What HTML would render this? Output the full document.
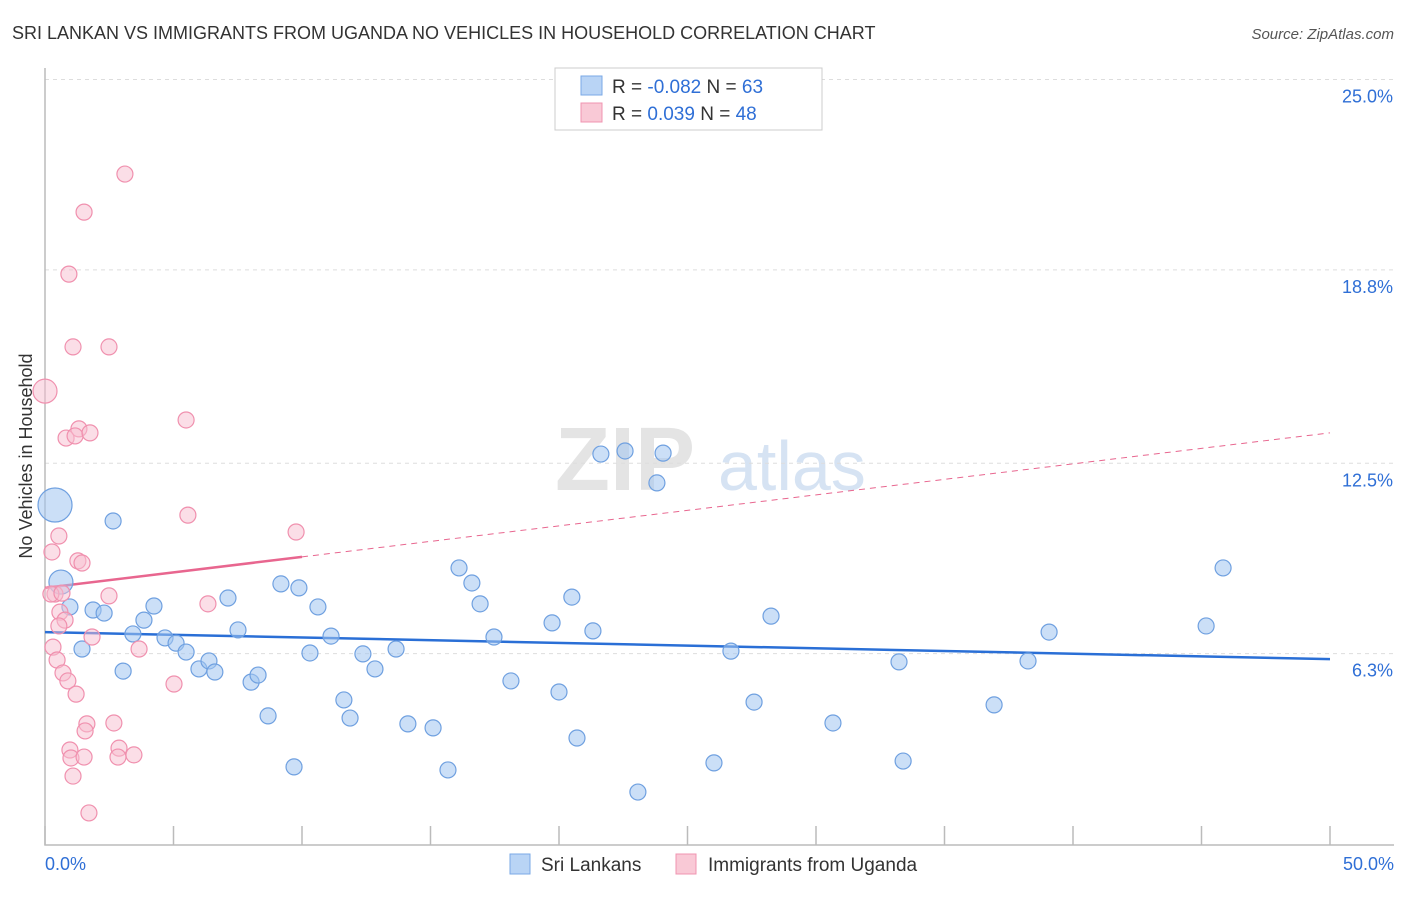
<!DOCTYPE html>
<html><head><meta charset="utf-8"><style>
body{margin:0;background:#fff;font-family:"Liberation Sans",sans-serif}
svg text{font-family:"Liberation Sans",sans-serif}
</style></head><body>
<svg id="chart" width="1406" height="892" xmlns="http://www.w3.org/2000/svg">
<text x="12" y="39" font-size="18" fill="#333">SRI LANKAN VS IMMIGRANTS FROM UGANDA NO VEHICLES IN HOUSEHOLD CORRELATION CHART</text>
<text x="1394" y="39" font-size="15" fill="#555" font-style="italic" text-anchor="end">Source: ZipAtlas.com</text>
<text x="32" y="456" font-size="18" fill="#333" text-anchor="middle" transform="rotate(-90 32 456)">No Vehicles in Household</text>
<g><text x="555" y="490" font-size="90" fill="#e4e4e4" font-family="Liberation Serif" font-weight="bold">ZIP</text><text x="718" y="490" font-size="70" fill="#d6e3f3">atlas</text></g>
<g id="grid"></g><g id="axes"></g><g id="trend"></g><g id="points"></g>
<g>
<rect x="555" y="68" width="267" height="62" fill="#fff" stroke="#ccc"/>
<rect x="581" y="76" width="21" height="19" fill="#b9d4f5" stroke="#7aa8e6"/>
<text x="612" y="93" font-size="19" fill="#333">R =  <tspan fill="#2f6fd6">-0.082</tspan>   N =  <tspan fill="#2f6fd6">63</tspan></text>
<rect x="581" y="103" width="21" height="19" fill="#f9c9d6" stroke="#f094b0"/>
<text x="612" y="120" font-size="19" fill="#333">R =   <tspan fill="#2f6fd6">0.039</tspan>   N =  <tspan fill="#2f6fd6">48</tspan></text>
</g>
<g>
<rect x="510" y="854" width="20" height="20" fill="#b9d4f5" stroke="#7aa8e6"/>
<text x="541" y="871" font-size="19" fill="#333">Sri Lankans</text>
<rect x="676" y="854" width="20" height="20" fill="#f9c9d6" stroke="#f094b0"/>
<text x="708" y="871" font-size="19" fill="#333">Immigrants from Uganda</text>
</g>
</svg>
<script>
const yTicks=[25.0,18.8,12.5,6.3];
const yTickLabels=["25.0%","18.8%","12.5%","6.3%"];
const xTicks=[0,5,10,15,20,25,30,35,40,45,50];
const blueX=[2.65,0.62,0.97,1.87,2.3,1.44,3.42,3.85,4.24,3.04,4.67,5.1,5.49,5.99,6.38,6.61,7.12,7.51,8.02,8.29,8.68,9.18,9.88,10.31,10.62,11.13,9.69,11.63,11.87,12.37,12.84,13.66,14.12,15.1,15.68,16.11,16.61,16.93,17.47,18.13,19.73,20.0,20.5,20.7,21.32,21.63,22.57,23.07,23.81,24.05,26.03,26.69,27.59,28.25,30.66,33.23,33.39,36.93,38.25,39.07,45.18,45.84,0.39];
const blueY=[10.62,8.63,7.82,7.72,7.62,6.45,6.94,7.39,7.85,5.73,6.81,6.64,6.35,5.80,6.06,5.70,8.11,7.07,5.37,5.60,4.27,8.57,8.44,6.32,7.82,6.87,2.61,4.79,4.20,6.29,5.80,6.45,4.01,3.88,2.51,9.09,8.60,7.92,6.84,5.41,7.30,5.05,8.14,3.55,7.04,12.80,12.90,1.79,11.86,12.83,2.74,6.38,4.72,7.52,4.04,6.03,2.80,4.63,6.06,7.0,7.2,9.09,11.14];
const blueR=[8,12,8,8,8,8,8,8,8,8,8,8,8,8,8,8,8,8,8,8,8,8,8,8,8,8,8,8,8,8,8,8,8,8,8,8,8,8,8,8,8,8,8,8,8,8,8,8,8,8,8,8,8,8,8,8,8,8,8,8,8,8,17];
const pinkX=[3.11,1.52,0.93,1.09,2.49,0,1.32,0.82,1.17,1.75,5.49,5.56,9.77,0.54,0.27,1.28,1.44,0.39,0.23,0.66,2.49,6.34,0.58,0.78,0.54,1.83,0.31,3.66,0.47,0.70,0.89,5.02,1.21,1.63,2.68,1.56,2.88,0.97,1.01,1.52,2.84,3.46,1.09,1.71];
const pinkY=[21.92,20.68,18.66,16.29,16.29,14.85,13.62,13.32,13.39,13.49,13.91,10.81,10.26,10.13,9.61,9.32,9.25,8.24,8.24,8.27,8.18,7.92,7.65,7.39,7.2,6.84,6.51,6.45,6.09,5.67,5.41,5.31,4.98,4.01,4.04,3.78,3.22,3.16,2.9,2.93,2.93,3.0,2.31,1.11];
const blueTrend=[7.0,6.12];
const pinkTrend=[8.44,13.49];
const NS="http://www.w3.org/2000/svg";
const X=v=>45+v*25.7, Y=v=>847-v*30.7;
function mk(parent,tag,attrs){const e=document.createElementNS(NS,tag);for(const k in attrs)e.setAttribute(k,attrs[k]);document.getElementById(parent).appendChild(e);return e;}
yTicks.forEach((t,i)=>{
 const l=mk('grid','line',{x1:45,x2:1394,y1:Y(t),y2:Y(t),stroke:'#ddd','stroke-dasharray':'4,4'});
 
 
 const tx=mk('grid','text',{x:1393,y:Y(t)+23,'font-size':18,fill:'#2f6fd6','text-anchor':'end'});
 tx.textContent=yTickLabels[i];
 
 
});
const ax=mk('axes','path',{d:'M45 68 V845 H1394',fill:'none',stroke:'#bbb','stroke-width':1.5});


xTicks.forEach(t=>{
 const l=mk('axes','line',{x1:X(t),x2:X(t),y1:826,y2:845,stroke:'#bbb','stroke-width':1.5});
 
 
});
const xl0=mk('axes','text',{x:45,y:870,'font-size':18,fill:'#2f6fd6'});xl0.textContent='0.0%';


const xl1=mk('axes','text',{x:1394,y:870,'font-size':18,fill:'#2f6fd6','text-anchor':'end'});xl1.textContent='50.0%';


blueX.forEach((x,i)=>{
 const c=mk('points','circle',{cx:X(x),cy:Y(blueY[i]),r:blueR[i],fill:'rgba(160,196,240,0.55)',stroke:'#6fa0e0','stroke-width':1.2});
 
 
});
pinkX.forEach((x,i)=>{
 const c=mk('points','circle',{cx:X(x),cy:Y(pinkY[i]),r:i===5?12:8,fill:'rgba(248,190,208,0.5)',stroke:'#f090ae','stroke-width':1.2});
 
 
});
const bt=mk('trend','line',{x1:X(0),y1:Y(blueTrend[0]),x2:X(50),y2:Y(blueTrend[1]),stroke:'#2a6fd6','stroke-width':2.5});


const pm=pinkTrend[0]+(pinkTrend[1]-pinkTrend[0])*10/50;
const pt=mk('trend','line',{x1:X(0),y1:Y(pinkTrend[0]),x2:X(10),y2:Y(pm),stroke:'#e8668f','stroke-width':2.5});


const pd=mk('trend','line',{x1:X(10),y1:Y(pm),x2:X(50),y2:Y(pinkTrend[1]),stroke:'#e8668f','stroke-width':1,'stroke-dasharray':'6,5'});


</script>
</body></html>
